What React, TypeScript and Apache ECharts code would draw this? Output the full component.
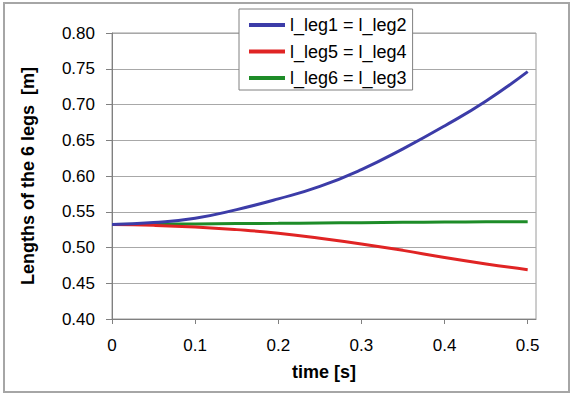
import React, { useEffect, useRef } from "react";
import * as echarts from "echarts";

const timeValues = [0, 0.05, 0.1, 0.15, 0.2, 0.25, 0.3, 0.35, 0.4, 0.45, 0.5];
const leg12 = [0.532, 0.535, 0.541, 0.553, 0.568, 0.5855, 0.609, 0.638, 0.67, 0.705, 0.746];
const leg54 = [0.532, 0.531, 0.5287, 0.525, 0.52, 0.513, 0.505, 0.496, 0.486, 0.477, 0.469];
const leg63 = [0.532, 0.5325, 0.533, 0.5334, 0.5338, 0.5343, 0.5347, 0.5352, 0.5356, 0.5359, 0.5361];
const seriesNames = ["l_leg1 = l_leg2", "l_leg5 = l_leg4", "l_leg6 = l_leg3"];
const xTicks = [0, 0.1, 0.2, 0.3, 0.4, 0.5];

const FONT = "'Liberation Sans', Arial, sans-serif";

export default function App() {
  const ref = useRef<HTMLDivElement>(null);
  useEffect(() => {
    if (!ref.current) return;
    const chart = echarts.init(ref.current, null, { renderer: "svg" });
    const mk = (arr: number[]) => timeValues.map((t, i) => [t, arr[i]]);
    const colors = ["#3c3ca8", "#e02424", "#1e8c28"];
    const datas = [leg12, leg54, leg63];
    chart.setOption({
      animation: false,
      backgroundColor: "#ffffff",
      textStyle: { fontFamily: FONT },
      grid: {
        left: 112,
        top: 33,
        right: 38,
        bottom: 75,
        show: true,
        borderColor: "#9a9a9a",
        borderWidth: 1,
        backgroundColor: "#ffffff",
      },
      legend: {
        orient: "vertical",
        left: 239,
        top: 9,
        width: 172,
        padding: [7, 6, 3, 10],
        itemGap: 8.5,
        itemWidth: 36,
        itemHeight: 4,
        icon: "rect",
        backgroundColor: "#ffffff",
        borderColor: "#808080",
        borderWidth: 1,
        borderRadius: 0,
        textStyle: { fontFamily: FONT, fontSize: 18, color: "#000" },
        data: seriesNames,
      },
      xAxis: {
        type: "value",
        min: 0,
        max: 0.51,
        name: "time [s]",
        nameLocation: "middle",
        nameGap: 44,
        nameTextStyle: { fontFamily: FONT, fontSize: 18, fontWeight: "bold", color: "#000" },
        axisLine: { show: true, lineStyle: { color: "#808080", width: 1 } },
        axisTick: { show: true, length: 5, customValues: xTicks, lineStyle: { color: "#808080" } },
        axisLabel: {
          customValues: xTicks,
          margin: 18,
          fontFamily: FONT,
          fontSize: 17,
          color: "#000",
          formatter: (v: number) => (v === 0 ? "0" : String(Math.round(v * 10) / 10)),
        },
        splitLine: { show: false },
      },
      yAxis: {
        type: "value",
        min: 0.4,
        max: 0.8,
        interval: 0.05,
        name: "Lengths of the 6 legs  [m]",
        nameLocation: "middle",
        nameGap: 75,
        nameTextStyle: { fontFamily: FONT, fontSize: 18, fontWeight: "bold", color: "#000" },
        axisLine: { show: true, lineStyle: { color: "#808080", width: 1 } },
        axisTick: { show: true, length: 6, lineStyle: { color: "#808080" } },
        axisLabel: {
          margin: 17,
          fontFamily: FONT,
          fontSize: 17,
          color: "#000",
          formatter: (v: number) => v.toFixed(2),
        },
        splitLine: { show: true, lineStyle: { color: "#a8a8a8", width: 1 } },
      },
      series: datas.map((d, i) => ({
        name: seriesNames[i],
        type: "line",
        data: mk(d),
        smooth: true,
        showSymbol: false,
        symbol: "none",
        color: colors[i],
        lineStyle: { color: colors[i], width: 3 },
        z: 3 - i,
      })),
      graphic: [
        {
          type: "rect",
          shape: { x: 4, y: 3, width: 565, height: 389 },
          style: { fill: "none", stroke: "#a6a6a6", lineWidth: 2 },
          silent: true,
        },
      ],
    });
    return () => chart.dispose();
  }, []);
  return (
    <div
      ref={ref}
      style={{ position: "fixed", left: 0, top: 0, width: 574, height: 394 }}
    />
  );
}
